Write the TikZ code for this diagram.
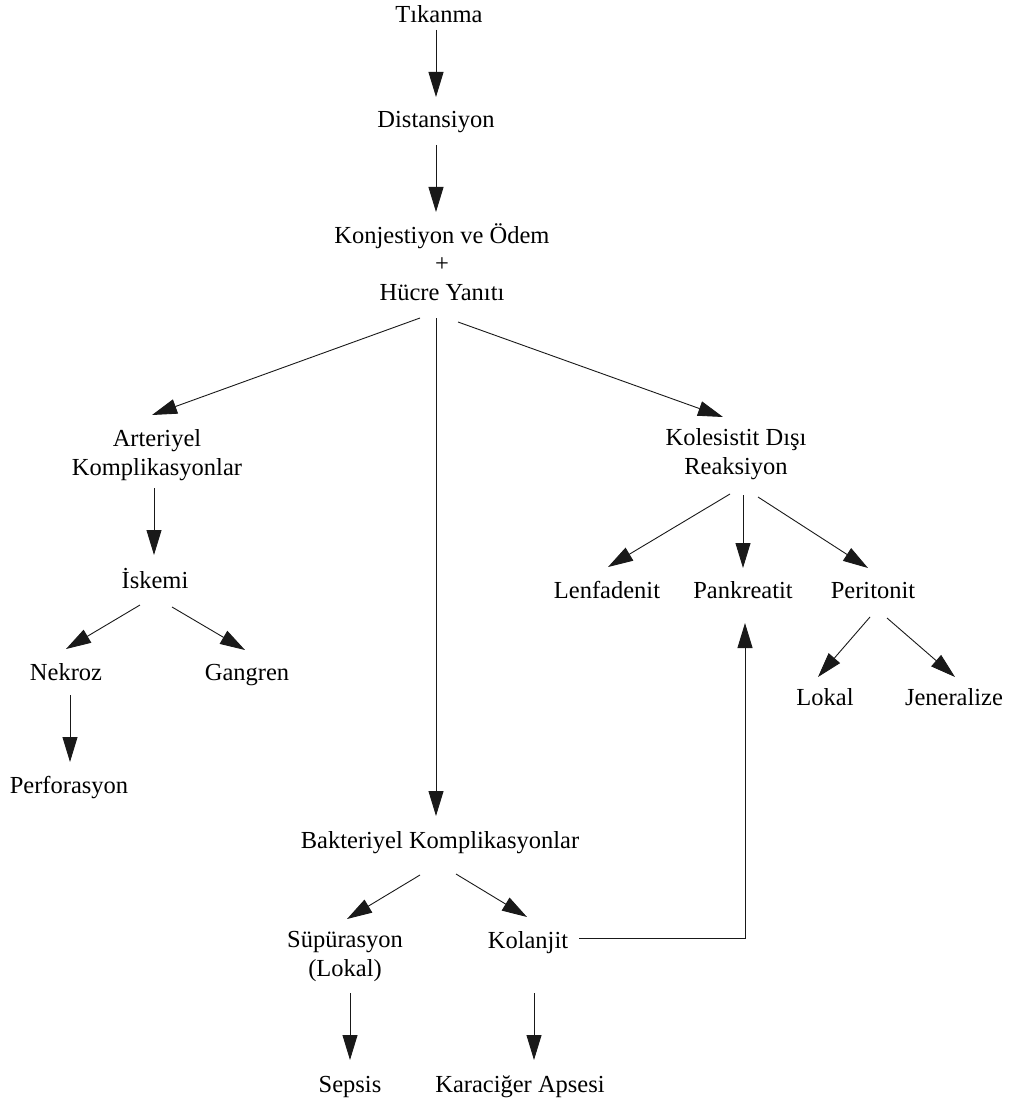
\documentclass[tikz,border=0pt]{standalone}
\usepackage{fontspec}
\setmainfont{Liberation Serif}
\usetikzlibrary{arrows.meta}
\begin{document}
\begin{tikzpicture}[x=1pt,y=-1pt,
  lbl/.style={anchor=base,inner sep=0pt,align=center,font=\fontsize{24.5}{28.5}\selectfont},
  arr/.style={draw=black!90,line width=0.9pt,-{Triangle[length=25pt,width=15pt]}}]
\useasboundingbox (0,0) rectangle (1018,1102);
\node[lbl] (tik) at (439,23) {Tıkanma};
\node[lbl] (dist) at (436,128) {Distansiyon};
\node[lbl] (konj) at (442,300) {Konjestiyon ve Ödem\\+\\Hücre Yanıtı};
\node[lbl] (art) at (157,475) {Arteriyel\\Komplikasyonlar};
\node[lbl] (isk) at (155,588) {İskemi};
\node[lbl] (nek) at (66,680) {Nekroz};
\node[lbl] (gan) at (247,680) {Gangren};
\node[lbl] (perf) at (69,793) {Perforasyon};
\node[lbl] (kol) at (736,474) {Kolesistit Dışı\\Reaksiyon};
\node[lbl] (lenf) at (607,598) {Lenfadenit};
\node[lbl] (pank) at (743,598) {Pankreatit};
\node[lbl] (perit) at (873,598) {Peritonit};
\node[lbl] (lokal) at (825,705) {Lokal};
\node[lbl] (jen) at (954,705) {Jeneralize};
\node[lbl] (bakt) at (440,848) {Bakteriyel Komplikasyonlar};
\node[lbl] (sup) at (345,976) {Süpürasyon\\(Lokal)};
\node[lbl] (kolanjit) at (528,948) {Kolanjit};
\node[lbl] (sepsis) at (350,1092) {Sepsis};
\node[lbl] (kar) at (520,1092) {Karaciğer Apsesi};

\draw[arr] ([shift={(-3,7)}]tik.base) -- ([shift={(0,-31)}]dist.base);
\draw[arr] ([shift={(0,17)}]dist.base) -- ([shift={(-6,-88)}]konj.base);
\draw[arr] ([shift={(-22,18)}]konj.base) -- ([shift={(-5,-60)}]art.base);
\draw[arr] ([shift={(-6,18)}]konj.base) -- ([shift={(-4,-32)}]bakt.base);
\draw[arr] ([shift={(16,22)}]konj.base) -- ([shift={(-13,-57)}]kol.base);
\draw[arr] ([shift={(-3,13)}]art.base) -- ([shift={(-1,-33)}]isk.base);
\draw[arr] ([shift={(-15,17)}]isk.base) -- ([shift={(0,-31)}]nek.base);
\draw[arr] ([shift={(17,19)}]isk.base) -- ([shift={(-2,-30)}]gan.base);
\draw[arr] ([shift={(4,15)}]nek.base) -- ([shift={(1,-31)}]perf.base);
\draw[arr] ([shift={(-6,20)}]kol.base) -- ([shift={(1,-31)}]lenf.base);
\draw[arr] ([shift={(7,21)}]kol.base) -- ([shift={(0,-30)}]pank.base);
\draw[arr] ([shift={(22,23)}]kol.base) -- ([shift={(-5,-30)}]perit.base);
\draw[arr] ([shift={(-3,19)}]perit.base) -- ([shift={(-7,-28)}]lokal.base);
\draw[arr] ([shift={(14,20)}]perit.base) -- ([shift={(1,-28)}]jen.base);
\draw[arr] ([shift={(-20,27)}]bakt.base) -- ([shift={(2,-57)}]sup.base);
\draw[arr] ([shift={(16,26)}]bakt.base) -- ([shift={(-1,-31)}]kolanjit.base);
\draw[arr] ([shift={(5,17)}]sup.base) -- ([shift={(0,-32)}]sepsis.base);
\draw[arr] ([shift={(6,45)}]kolanjit.base) -- ([shift={(14,-32)}]kar.base);
\draw[arr] ([shift={(51,-10)}]kolanjit.base) -| ([shift={(2,25)}]pank.base);
\end{tikzpicture}
\end{document}
